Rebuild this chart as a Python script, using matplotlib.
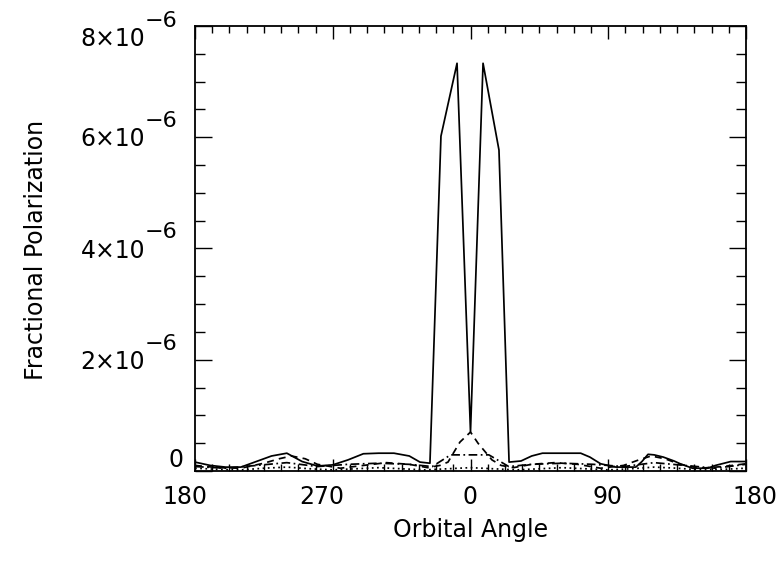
import matplotlib
matplotlib.use("Agg")
import matplotlib.pyplot as plt
from matplotlib.ticker import MultipleLocator, NullFormatter
from matplotlib.transforms import blended_transform_factory, ScaledTranslation

# ---------------- data (values in units of 1e-6) ----------------
a_ang = [-180, -170, -160, -150, -140, -130, -120, -110, -100, -90, -80, -70, -60, -50,
         -40, -33, -26.5, -19.3, -8.8, 0, 8.2, 18.6, 25.2, 33, 40, 47, 60, 72, 78, 85,
         95, 108, 112, 116, 120, 126, 133, 137, 145, 155, 160, 170, 180]
a_val = [0.16, 0.10, 0.07, 0.07, 0.17, 0.27, 0.32, 0.17, 0.09, 0.11, 0.20, 0.31, 0.32, 0.32,
         0.27, 0.16, 0.14, 6.02, 7.33, 0.70, 7.33, 5.77, 0.16, 0.18, 0.27, 0.32, 0.32, 0.32, 0.25, 0.13,
         0.07, 0.07, 0.17, 0.30, 0.29, 0.25, 0.18, 0.13, 0.05, 0.05, 0.10, 0.17, 0.17]

b_ang = [-180, -165, -150, -135, -125, -117, -108, -100, -85, -70, -55, -40, -28, -20,
         -14.7, -6.9, 0, 4.9, 14, 20, 28, 40, 55, 70, 85, 100, 110, 118, 127, 137, 150, 165, 180]
b_val = [0.10, 0.06, 0.05, 0.14, 0.22, 0.27, 0.22, 0.12, 0.05, 0.10, 0.15, 0.12, 0.06, 0.10,
         0.16, 0.52, 0.70, 0.50, 0.20, 0.10, 0.06, 0.12, 0.15, 0.12, 0.05, 0.10, 0.20, 0.27, 0.22, 0.12, 0.05, 0.08, 0.13]

c_ang = [-180, -160, -140, -120, -100, -80, -60, -40, -25, -13, 0, 12, 25, 40, 60, 80,
         100, 120, 140, 160, 180]
c_val = [0.08, 0.05, 0.10, 0.15, 0.08, 0.12, 0.14, 0.12, 0.08, 0.29, 0.29, 0.29, 0.08, 0.12,
         0.14, 0.12, 0.08, 0.15, 0.10, 0.05, 0.12]

d_ang = [-180, -165, -150, -135, -120, -105, -90, -75, -60, -45, -30, -15, 0, 15, 30, 45,
         60, 75, 90, 105, 120, 135, 150, 165, 180]
d_val = [0.05, 0.03, 0.02, 0.05, 0.07, 0.04, 0.02, 0.04, 0.06, 0.04, 0.02, 0.04, 0.06, 0.04,
         0.02, 0.04, 0.06, 0.04, 0.02, 0.04, 0.07, 0.05, 0.02, 0.03, 0.05]

x_ticks = [-180, -90, 0, 90, 180]
x_labels = ["180", "270", "0", "90", "180"]
y_ticks = [0, 2, 4, 6, 8]
y_mant = ["0", "2\u00d710", "4\u00d710", "6\u00d710", "8\u00d710"]

SCALE = 1e-6

# ---------------- figure ----------------
W, H = 781, 566
fig = plt.figure(figsize=(W / 100, H / 100), dpi=100)
L, R, T, B = 195, 746, 26, 471
ax = fig.add_axes([L / W, 1 - B / H, (R - L) / W, (B - T) / H])

lw = 1.25
ax.plot(a_ang, [v * SCALE for v in a_val], color="black", lw=lw, ls="-")
ax.plot(b_ang, [v * SCALE for v in b_val], color="black", lw=lw, ls=(0, (4, 3)))
ax.plot(c_ang, [v * SCALE for v in c_val], color="black", lw=lw, ls=(0, (5, 2, 1, 2)))
ax.plot(d_ang, [v * SCALE for v in d_val], color="black", lw=lw, ls=(0, (1, 2)))

ax.set_xlim(-180, 180)
ax.set_ylim(0, 8e-6)

ax.xaxis.set_major_locator(MultipleLocator(90))
ax.xaxis.set_minor_locator(MultipleLocator(11.25))
ax.yaxis.set_major_locator(MultipleLocator(2e-6))
ax.yaxis.set_minor_locator(MultipleLocator(0.5e-6))
ax.xaxis.set_major_formatter(NullFormatter())
ax.yaxis.set_major_formatter(NullFormatter())
ax.tick_params(which="both", direction="in", top=True, right=True, color="black", width=1.0)
ax.tick_params(which="major", axis="x", length=9)
ax.tick_params(which="minor", axis="x", length=5)
ax.tick_params(which="major", axis="y", length=12)
ax.tick_params(which="minor", axis="y", length=7)
for s in ax.spines.values():
    s.set_linewidth(1.3)

fs = 17
fam = ["DejaVu Sans"]

# x tick labels
xoff = [-10, -11, 0, -1, 9]
trx = blended_transform_factory(ax.transData, ax.transAxes)
for xv, lab, dx in zip(x_ticks, x_labels, xoff):
    ax.text(xv, 0, lab, transform=trx + ScaledTranslation(dx / 100, -26 / 100, fig.dpi_scale_trans),
            ha="center", va="center", fontsize=fs, family=fam, clip_on=False)

# y tick labels
try_ = blended_transform_factory(ax.transAxes, ax.transData)
for yv, lab in zip(y_ticks, y_mant):
    v = yv * SCALE
    if yv == 0:
        ax.text(0, v, lab, transform=try_ + ScaledTranslation(-12 / 100, 11 / 100, fig.dpi_scale_trans),
                ha="right", va="center", fontsize=fs, family=fam, clip_on=False)
        continue
    dy = -13 if yv == 8 else -2
    ax.text(0, v, lab, transform=try_ + ScaledTranslation(-50 / 100, dy / 100, fig.dpi_scale_trans),
            ha="right", va="center", fontsize=fs, family=fam, clip_on=False)
    ax.text(0, v, "\u22126", transform=try_ + ScaledTranslation(-50 / 100, (dy + 18) / 100, fig.dpi_scale_trans),
            ha="left", va="center", fontsize=fs - 1, family=fam, clip_on=False)

fig.text(471 / W, 1 - 530 / H, "Orbital Angle", ha="center", va="center", fontsize=fs, family=fam)
fig.text(36 / W, 1 - 250 / H, "Fractional Polarization", ha="center", va="center",
         rotation=90, fontsize=fs, family=fam)

fig.savefig("out.png", dpi=100, facecolor="white")
